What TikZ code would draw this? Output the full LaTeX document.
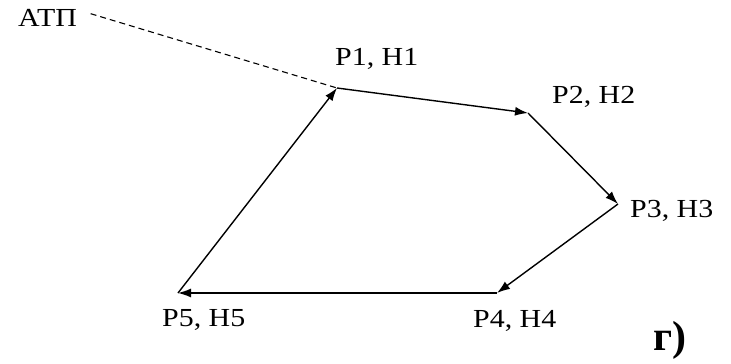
\documentclass[tikz,border=0pt]{standalone}
\usepackage{fontspec}
\setmainfont{Liberation Serif}
\newfontfamily\lblfont[FakeStretch=1.15]{Liberation Serif}
\usetikzlibrary{arrows.meta}

\begin{document}
\begin{tikzpicture}[
    x=1pt, y=-1pt,
    lbl/.style={inner sep=0pt, anchor=base west, font=\lblfont\fontsize{26}{30}\selectfont},
    tag/.style={inner sep=0pt, anchor=base west, font=\bfseries\fontsize{42}{48}\selectfont},
    arr/.style={-{Latex[length=13pt, width=9pt]}, line width=1.4pt},
    route/.style={dash pattern=on 6pt off 4pt, line width=1.1pt, shorten <=14pt}
  ]
    \useasboundingbox (0,0) rectangle (731,364);
    % route points
    \coordinate (p1) at (337,88);
    \coordinate (p2) at (528,113);
    \coordinate (p3) at (618,204);
    \coordinate (p4) at (497,293);
    \coordinate (p5) at (178,293);
    % labels
    \node[lbl] (atp) at (18,27) {АТП};
    \node[lbl] (l1) at (335,65) {Р1, Н1};
    \node[lbl] (l2) at (552,103) {Р2, Н2};
    \node[lbl] (l3) at (630,217) {Р3, Н3};
    \node[lbl] (l4) at (473,327) {Р4, Н4};
    \node[lbl] (l5) at (162,326) {Р5, Н5};
    \node[tag] (sub) at (653,350) {г)};
    \draw[route] (atp.north east) -- (p1);
    \draw[arr] (p1) -- (p2);
    \draw[arr] (p2) -- (p3);
    \draw[arr] (p3) -- (p4);
    \draw[arr] (p4) -- (p5);
    \draw[arr] (p5) -- (p1);
\end{tikzpicture}
\end{document}
